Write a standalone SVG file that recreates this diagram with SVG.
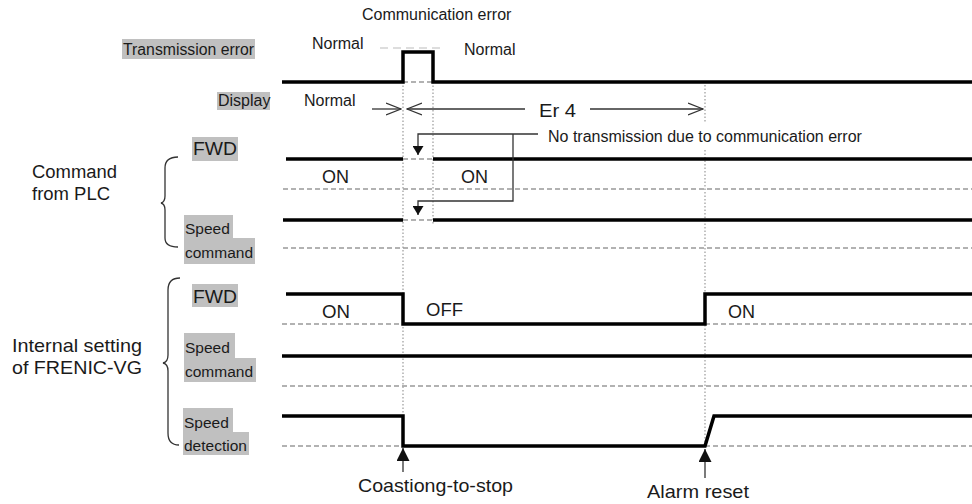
<svg xmlns="http://www.w3.org/2000/svg" width="972" height="504" viewBox="0 0 972 504">
<defs>
<marker id="openHead" viewBox="0 0 16 14" refX="15" refY="7" markerWidth="16" markerHeight="14" markerUnits="userSpaceOnUse" orient="auto">
<path d="M0,1 L15,7 L0,13" fill="none" stroke="#333" stroke-width="1.3"/>
</marker>
<marker id="smallHead" viewBox="0 0 9 11" refX="9" refY="5.5" markerWidth="9" markerHeight="11" markerUnits="userSpaceOnUse" orient="auto">
<path d="M0,0 L9,5.5 L0,11 z" fill="#111"/>
</marker>
<marker id="bigHead" viewBox="0 0 13 13" refX="13" refY="6.5" markerWidth="13" markerHeight="13" markerUnits="userSpaceOnUse" orient="auto">
<path d="M0,0 L13,6.5 L0,13 z" fill="#111"/>
</marker>
</defs>
<style>
text{font-family:"Liberation Sans",Arial,sans-serif;fill:#1a1a1a;font-size:16px}
.sig{fill:none;stroke:#000;stroke-width:3.5;stroke-linejoin:miter;stroke-linecap:butt}
.base{fill:none;stroke:#999;stroke-width:1.3;stroke-dasharray:5 3}
.vdot{stroke:#999;stroke-width:1.2;stroke-dasharray:1.5 2;fill:none}
.lbl{fill:#c0c0c0}
.conn{fill:none;stroke:#333;stroke-width:1.3}
.big{font-size:18px}
.sm{font-size:15.5px}
</style>
<rect width="972" height="504" fill="#fff"/>

<g id="grid">
<path class="vdot" d="M403 82 V446 M433 82 V225 M705 85 V123 M705 150 V446"/>
</g>

<g id="transmission-error">
<rect class="lbl" x="122" y="39" width="133" height="20"/>
<text x="123" y="55" textLength="131" lengthAdjust="spacingAndGlyphs">Transmission error</text>
<text x="362" y="20">Communication error</text>
<text x="312" y="49">Normal</text>
<text x="464" y="55">Normal</text>
<path d="M380 48 H442" fill="none" stroke="#bbb" stroke-width="1.2" stroke-dasharray="8 5"/>
<path class="base" d="M403 82 H433"/>
<path class="sig" d="M282 82 H403 V52 H433 V82 H972"/>
</g>

<g id="display">
<rect class="lbl" x="217" y="92" width="53" height="18"/>
<text x="218" y="106">Display</text>
<text x="304" y="106">Normal</text>
<text x="539" y="117" class="big" textLength="37" lengthAdjust="spacingAndGlyphs">Er 4</text>
</g>

<g id="plc-label">
<text x="32" y="178" style="font-size:18px" textLength="85" lengthAdjust="spacingAndGlyphs">Command</text>
<text x="32" y="200" style="font-size:18px" textLength="78" lengthAdjust="spacingAndGlyphs">from PLC</text>
<path class="conn" d="M178 157 Q165 157 165 168 V196 Q165 202 161 203 Q165 204 165 210 V238 Q165 247 178 247"/>
</g>

<g id="plc-fwd">
<rect class="lbl" x="192" y="137" width="46" height="24"/>
<text x="193" y="155" class="big" textLength="44" lengthAdjust="spacingAndGlyphs">FWD</text>
<path class="base" d="M283 189 H972 M403 159 H433"/>
<path class="sig" d="M286 159 H403 M433 159 H972"/>
<text x="322" y="183" class="big" textLength="27" lengthAdjust="spacingAndGlyphs">ON</text>
<text x="461" y="183" class="big" textLength="27" lengthAdjust="spacingAndGlyphs">ON</text>
</g>

<g id="plc-speed-command">
<rect class="lbl" x="184" y="215" width="49" height="23"/>
<rect class="lbl" x="184" y="238" width="71" height="26"/>
<text x="185" y="234" class="sm">Speed</text>
<text x="185" y="258" class="sm">command</text>
<path class="base" d="M283 248 H972 M403 220 H433"/>
<path class="sig" d="M283 220 H403 M433 220 H972"/>
</g>

<g id="internal-label">
<text x="12" y="352" style="font-size:19px" textLength="130" lengthAdjust="spacingAndGlyphs">Internal setting</text>
<text x="12" y="374" style="font-size:19px" textLength="130" lengthAdjust="spacingAndGlyphs">of FRENIC-VG</text>
<path class="conn" d="M180 278 Q168 278 168 290 V355 Q168 362 163 363 Q168 364 168 371 V433 Q168 445 179 445"/>
</g>

<g id="internal-fwd">
<rect class="lbl" x="192" y="284" width="46" height="23"/>
<text x="193" y="303" class="big" textLength="44" lengthAdjust="spacingAndGlyphs">FWD</text>
<path class="base" d="M282 324 H403 M705 324 H972"/>
<path class="sig" d="M286 294 H403 V324 H705 V294 H972"/>
<text x="322" y="318" class="big" textLength="28" lengthAdjust="spacingAndGlyphs">ON</text>
<text x="426" y="316" class="big" textLength="37" lengthAdjust="spacingAndGlyphs">OFF</text>
<text x="728" y="318" class="big" textLength="27" lengthAdjust="spacingAndGlyphs">ON</text>
</g>

<g id="internal-speed-command">
<rect class="lbl" x="184" y="333" width="51" height="25"/>
<rect class="lbl" x="184" y="358" width="72" height="24"/>
<text x="185" y="353" class="sm">Speed</text>
<text x="185" y="377" class="sm">command</text>
<path class="base" d="M282 386 H972"/>
<path class="sig" d="M282 356 H972"/>
</g>

<g id="speed-detection">
<rect class="lbl" x="183" y="408" width="50" height="24"/>
<rect class="lbl" x="183" y="432" width="66" height="23"/>
<text x="184" y="428" class="sm">Speed</text>
<text x="184" y="451" class="sm">detection</text>
<path class="base" d="M282 446 H403 M705 446 H972"/>
<path class="sig" d="M282 416 H403 V446 H705 L714 416 H972"/>
</g>

<g id="no-transmission-note">
<text x="548" y="142">No transmission due to communication error</text>
</g>

<g id="coasting-label">
<text x="358" y="492" style="font-size:19px" textLength="155" lengthAdjust="spacingAndGlyphs">Coastiong-to-stop</text>
</g>

<g id="alarm-reset-label">
<text x="647" y="498" style="font-size:19px" textLength="102" lengthAdjust="spacingAndGlyphs">Alarm reset</text>
</g>

<g id="connectors">
<path class="conn" d="M372 109 H401" marker-end="url(#openHead)"/>
<path class="conn" d="M525 109 H407" marker-end="url(#openHead)"/>
<path class="conn" d="M590 109 H703" marker-end="url(#openHead)"/>
<path class="conn" d="M538 134 H418 V155" marker-end="url(#smallHead)"/>
<path class="conn" d="M513 134 V201 H418 V215" marker-end="url(#smallHead)"/>
<path class="conn" d="M403 472 V448" marker-end="url(#bigHead)"/>
<path class="conn" d="M705 478 V449" marker-end="url(#bigHead)"/>
</g>
</svg>
